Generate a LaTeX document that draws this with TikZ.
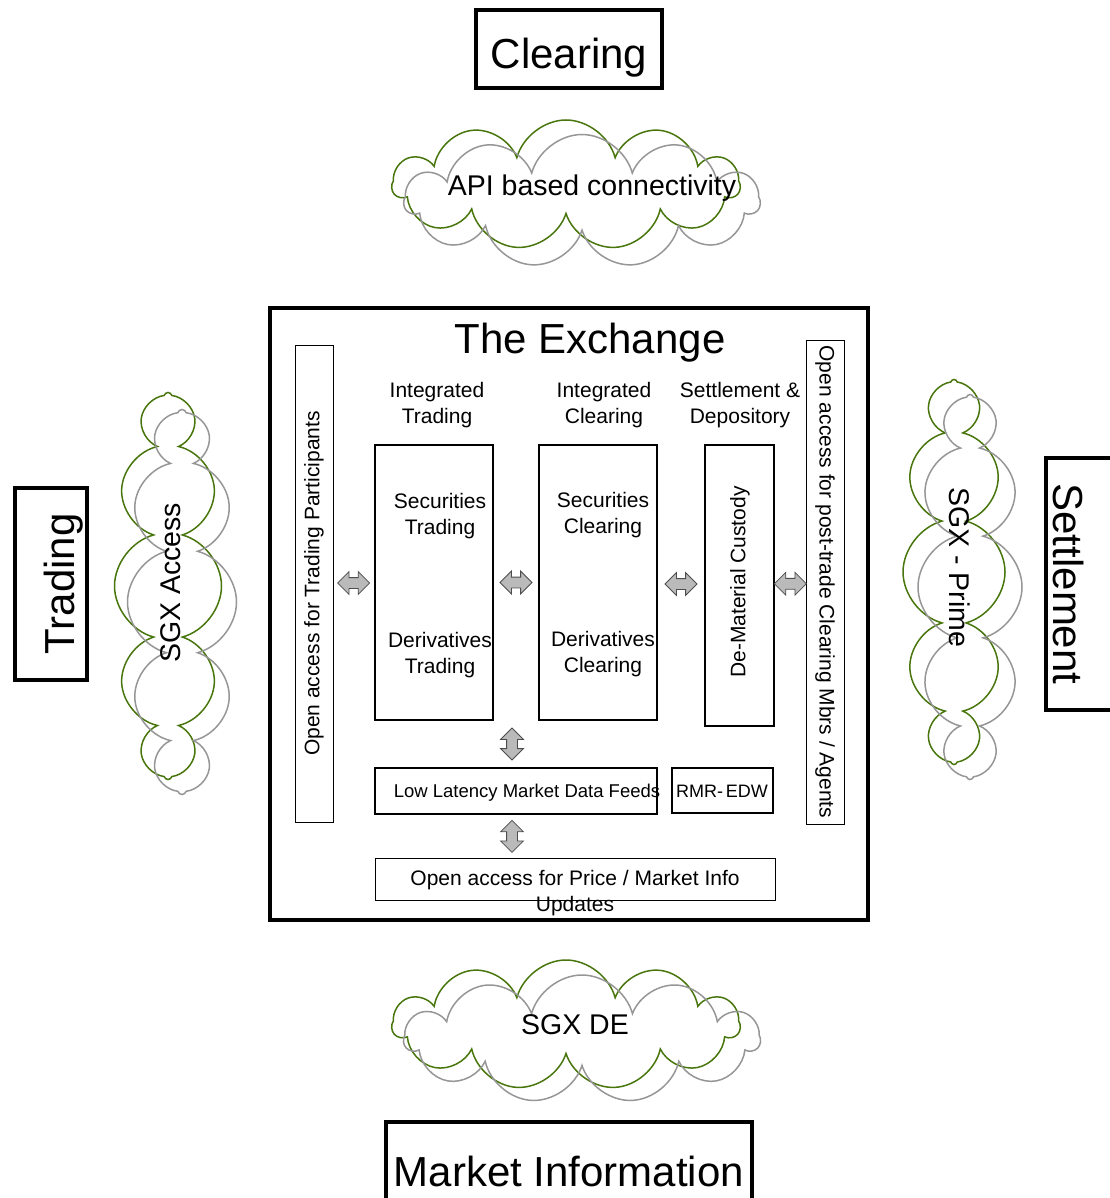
\documentclass[tikz,border=0pt]{standalone}
\usepackage{fontspec}
\setmainfont{Liberation Sans}
\usepackage{tikz}
\usetikzlibrary{arrows.meta,positioning,calc,shapes.symbols,shapes.arrows}

\definecolor{leaf}{RGB}{72,118,12}
\definecolor{ash}{RGB}{150,150,150}

\begin{document}
\begin{tikzpicture}[
  x=1pt, y=-1pt,
  bigbox/.style={draw, line width=4pt, inner sep=0pt},
  bigtxt/.style={inner sep=0pt, font=\fontsize{42}{48}\selectfont},
  unit/.style={draw, line width=2.5pt, inner sep=0pt},
  bar/.style={draw, line width=1pt, inner sep=0pt},
  cloudg/.style={cloud, cloud ignores aspect, draw=leaf, line width=1.5pt, inner sep=0pt},
  cloudk/.style={cloud, cloud ignores aspect, draw=ash, line width=1.5pt, inner sep=0pt},
  lbl/.style={align=center, inner sep=0pt, font=\fontsize{21}{25.5}\selectfont},
  cloudtxt/.style={inner sep=0pt, font=\fontsize{28.5}{34}\selectfont},
  dbl/.style={double arrow, fill=black!27, draw=black!70, line width=0.8pt,
              inner sep=5pt, minimum height=32pt, minimum width=22pt,
              double arrow head extend=6pt},
]
\useasboundingbox (0,0) rectangle (1109,1198);

% outer labels
\node[bigbox, minimum width=186, minimum height=78] (Clr) at (569,49) {};
\node[bigtxt] at (569,58) {Clearing};
\node[bigbox, minimum width=192, minimum height=72, rotate=90] (Trd) at (51,584) {};
\node[bigtxt, rotate=90] at (64,584) {Trading};
\node[bigbox, minimum width=252, minimum height=70, rotate=-90] (Stl) at (1081,584) {};
\node[bigtxt, rotate=-90] at (1068,584) {Settlement};
\node[bigbox, minimum width=366, minimum height=96] (Mkt) at (569,1170) {};
\node[bigtxt] at (569,1171) {Market Information};

% clouds
\node[cloudg, cloud puffs=11, minimum width=347, minimum height=130] (C1g) at (566,185) {};
\node[cloudk, cloud puffs=11, minimum width=355, minimum height=133] (C1k) at (582,201) {};
\node[cloudtxt] (C1) at (592,188) {API based connectivity};

\node[cloudg, cloud puffs=11, minimum width=347, minimum height=130] (C4g) at (566,1025) {};
\node[cloudk, cloud puffs=11, minimum width=355, minimum height=128] (C4k) at (582,1039) {};
\node[cloudtxt] (C4) at (575,1025) {SGX DE};

\node[cloudg, cloud puffs=12, minimum width=107, minimum height=387] (C2g) at (168,586) {};
\node[cloudk, cloud puffs=12, minimum width=109, minimum height=385] (C2k) at (182,602) {};
\node[cloudtxt, rotate=90] (C2) at (171,583) {SGX Access};

\node[cloudg, cloud puffs=12, minimum width=102, minimum height=385] (C3g) at (954,572) {};
\node[cloudk, cloud puffs=12, minimum width=104, minimum height=385] (C3k) at (970,587) {};
\node[cloudtxt, rotate=-90] (C3) at (960,567) {SGX - Prime};

% the exchange
\node[draw, line width=4pt, minimum width=598, minimum height=612] (Ex) at (569,614) {};
\node[bigtxt] (ExT) at (590,343) {The Exchange};

\node[bar, minimum width=38, minimum height=477] (P1) at (314,583.5) {};
\node[lbl, rotate=90] at (P1) {Open access for Trading Participants};
\node[bar, minimum width=38, minimum height=484] (P2) at (825,582) {};
\node[lbl, rotate=-90] at (P2) {Open access for post-trade Clearing Mbrs / Agents};

\node[lbl] (H1) at (437,405) {Integrated\\Trading};
\node[lbl] (H2) at (604,405) {Integrated\\Clearing};
\node[lbl] (H3) at (740,405) {Settlement \&\\Depository};

\node[unit, minimum width=118, minimum height=275] (B1) at (434,582.5) {};
\node[lbl] at (440,516) {Securities\\Trading};
\node[lbl] at (440,655) {Derivatives\\Trading};
\node[unit, minimum width=118, minimum height=275] (B2) at (598,582.5) {};
\node[lbl] at (603,515) {Securities\\Clearing};
\node[lbl] at (603,654) {Derivatives\\Clearing};
\node[unit, minimum width=69, minimum height=281] (B3) at (739.5,585.5) {};
\node[lbl, rotate=90] at (740,582) {De-Material Custody};

\node[unit, minimum width=282, minimum height=46] (LL) at (516,791) {};
\node[inner sep=0pt, font=\fontsize{18.5}{22}\selectfont] at (527,793) {Low Latency Market Data Feeds};
\node[unit, minimum width=101, minimum height=45] (RE) at (722.5,790.5) {};
\node[inner sep=0pt, font=\fontsize{18}{22}\selectfont] at (722,791) {RMR-\,EDW};

\node[bar, minimum width=400, minimum height=42] (PI) at (575,879) {};
\node[lbl] at (575,893) {Open access for Price / Market Info\\Updates};

% double arrows
\node[dbl] at ($(P1.east)!0.5!(B1.west)$) {};
\node[dbl] at ($(B1.east)!0.5!(B2.west)$) {};
\node[dbl] at ($(B2.east)!0.5!(B3.west)$) {};
\node[dbl] at ($(B3.east)!0.5!(P2.west)$) {};
\node[dbl, rotate=90] at ($(B1.south)!0.5!(LL.north)+(37,0)$) {};
\node[dbl, rotate=90] at ($(LL.south)!0.5!(PI.north)+(-33.5,0)$) {};
\end{tikzpicture}
\end{document}
